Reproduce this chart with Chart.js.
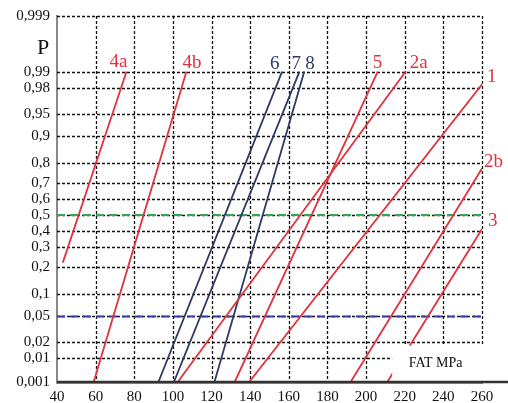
<!DOCTYPE html>
<html>
<head>
<meta charset="utf-8">
<script src="https://cdn.jsdelivr.net/npm/chart.js@4/dist/chart.umd.min.js"></script>
<style>
  html, body { margin: 0; padding: 0; background: #fff; }
  #wrap { width: 508px; height: 403px; }
</style>
</head>
<body>
<div id="wrap"><canvas id="chart"></canvas></div>
<script>
// probability paper: P on the left, FAT (MPa) along the bottom
const probTicks = [0.001, 0.01, 0.02, 0.05, 0.1, 0.2, 0.3, 0.4, 0.5, 0.6, 0.7, 0.8, 0.9, 0.95, 0.98, 0.99, 0.999];
const fatTicks = [40, 60, 80, 100, 120, 140, 160, 180, 200, 220, 240, 260];

// each curve is a straight line on the paper, start and end point
const curveNames = ['1', '2a', '2b', '3', '4a', '4b', '5', '6', '7', '8'];
const startFat = [139.5, 102.5, 192, 211, 43, 59, 132, 92.5, 100.5, 121.5];
const startP   = [0.001, 0.001, 0.001, 0.001, 0.22, 0.001, 0.001, 0.001, 0.001, 0.001];
const endFat   = [260, 220.5, 260, 260, 76, 107, 206, 156.5, 165.5, 168];
const endP     = [0.983, 0.99, 0.775, 0.41, 0.99, 0.99, 0.99, 0.99, 0.99, 0.99];

// horizontal reference levels
const refLevels = [0.5, 0.05];

const RED = '#e0323c';
const NAVY = '#2b3a66';
const curveColors = [RED, RED, RED, RED, RED, RED, RED, NAVY, NAVY, NAVY];
const refColors = ['#2fa84f', '#3a3aa8'];
// label placement next to the upper end of each curve
const labelDx = [5, 4, 2, 6, -17, -4, -5, -12, -8, 1];
const labelDy = [-7, -9, -6, -8, -10, -9, -9, -8, -8, -8];

// inverse normal CDF (Acklam)
function probit(p) {
  const a = [-39.69683028665376, 220.9460984245205, -275.9285104469687, 138.3577518672690, -30.66479806614716, 2.506628277459239];
  const b = [-54.47609879822406, 161.5858368580409, -155.6989798598866, 66.80131188771972, -13.28068155288572];
  const c = [-0.007784894002430293, -0.3223964580411365, -2.400758277161838, -2.549732539343734, 4.374664141464968, 2.938163982698783];
  const d = [0.007784695709041462, 0.3224671290700398, 2.445134137142996, 3.754408661907416];
  const pl = 0.02425;
  let q, r;
  if (p < pl) {
    q = Math.sqrt(-2 * Math.log(p));
    return (((((c[0]*q+c[1])*q+c[2])*q+c[3])*q+c[4])*q+c[5]) / ((((d[0]*q+d[1])*q+d[2])*q+d[3])*q+1);
  }
  if (p > 1 - pl) {
    q = Math.sqrt(-2 * Math.log(1 - p));
    return -(((((c[0]*q+c[1])*q+c[2])*q+c[3])*q+c[4])*q+c[5]) / ((((d[0]*q+d[1])*q+d[2])*q+d[3])*q+1);
  }
  q = p - 0.5; r = q * q;
  return (((((a[0]*r+a[1])*r+a[2])*r+a[3])*r+a[4])*r+a[5])*q / (((((b[0]*r+b[1])*r+b[2])*r+b[3])*r+b[4])*r+1);
}

// the paper squeezes the far tails beyond 0.01 / 0.99
const Z_LO = probit(0.01), Z_HI = probit(0.99);
function pos(p) {
  const z = probit(p);
  if (z > Z_HI) return Z_HI + (z - Z_HI) * 1.18;
  if (z < Z_LO) return Z_LO + (z - Z_LO) * 0.5;
  return z;
}

const datasets = curveNames.map((name, i) => ({
  label: name,
  data: [{ x: startFat[i], y: pos(startP[i]) }, { x: endFat[i], y: pos(endP[i]) }],
  borderColor: curveColors[i],
  borderWidth: 1.8,
  pointRadius: 0
}));
refLevels.forEach((p, i) => {
  datasets.push({
    label: 'P = ' + p,
    data: [{ x: fatTicks[0], y: pos(p) }, { x: fatTicks[fatTicks.length - 1], y: pos(p) }],
    borderColor: refColors[i],
    borderWidth: 2,
    borderDash: [8, 5],
    pointRadius: 0
  });
});

const serif = '"Liberation Serif", "DejaVu Serif", serif';

// dotted paper grid, drawn by hand so the dash pattern is exact
const paperGrid = {
  id: 'paperGrid',
  beforeDatasetsDraw(chart) {
    const { ctx, chartArea, scales } = chart;
    ctx.save();
    ctx.strokeStyle = '#111';
    ctx.lineWidth = 1.3;
    ctx.setLineDash([3, 2]);
    ctx.beginPath();
    fatTicks.slice(1).forEach(v => {
      const px = Math.round(scales.x.getPixelForValue(v)) + 0.5;
      ctx.moveTo(px, chartArea.top);
      ctx.lineTo(px, chartArea.bottom);
    });
    probTicks.slice(1).forEach(p => {
      const py = Math.round(scales.y.getPixelForValue(pos(p))) + 0.5;
      ctx.moveTo(chartArea.left, py);
      ctx.lineTo(chartArea.right, py);
    });
    ctx.stroke();
    ctx.restore();
  }
};

const paperNotes = {
  id: 'paperNotes',
  afterDatasetsDraw(chart) {
    const { ctx, chartArea, scales } = chart;
    const x = scales.x, y = scales.y;
    ctx.save();

    // blank corner holding the unit caption
    const boxL = x.getPixelForValue(213.5);
    const boxT = y.getPixelForValue(pos(0.02)) + 4;
    const boxB = chartArea.bottom - 1.6;
    ctx.fillStyle = '#fff';
    ctx.fillRect(boxL, boxT, chart.width - boxL, boxB - boxT);
    ctx.fillStyle = '#111';
    ctx.font = '14px ' + serif;
    ctx.textAlign = 'center';
    ctx.textBaseline = 'middle';
    ctx.fillText('FAT MPa', x.getPixelForValue(236), chartArea.bottom - 19);

    // bottom axis runs on to the edge
    ctx.strokeStyle = '#333';
    ctx.lineWidth = 2.5;
    ctx.beginPath();
    ctx.moveTo(chartArea.left, chartArea.bottom);
    ctx.lineTo(chart.width, chartArea.bottom);
    ctx.stroke();

    // axis letter
    ctx.fillStyle = '#111';
    ctx.font = '22px ' + serif;
    ctx.fillText('P', chartArea.left - 14, chartArea.top + 32);

    // curve numbers
    ctx.font = '19px ' + serif;
    ctx.textAlign = 'left';
    curveNames.forEach((name, i) => {
      const px = x.getPixelForValue(endFat[i]);
      const py = y.getPixelForValue(pos(endP[i]));
      ctx.fillStyle = curveColors[i];
      ctx.fillText(name, px + labelDx[i], py + labelDy[i]);
    });
    ctx.restore();
  }
};

new Chart(document.getElementById('chart').getContext('2d'), {
  type: 'line',
  data: { datasets },
  options: {
    responsive: true,
    maintainAspectRatio: false,
    animation: false,
    layout: { padding: { top: 14, right: 26, left: 0, bottom: 0 } },
    plugins: { legend: { display: false }, tooltip: { enabled: false } },
    scales: {
      x: {
        type: 'linear',
        min: fatTicks[0],
        max: fatTicks[fatTicks.length - 1],
        afterBuildTicks: (scale) => { scale.ticks = fatTicks.map(v => ({ value: v })); },
        afterFit: (scale) => { scale.height = 21; },
        grid: { display: false, drawTicks: false },
        border: { color: '#333', width: 2.5 },
        ticks: { autoSkip: false, padding: 6, color: '#111', font: { family: serif, size: 15 } }
      },
      y: {
        type: 'linear',
        min: pos(probTicks[0]),
        max: pos(probTicks[probTicks.length - 1]),
        afterBuildTicks: (scale) => { scale.ticks = probTicks.map(p => ({ value: pos(p) })); },
        afterFit: (scale) => { scale.width = 57; },
        grid: { display: false, drawTicks: false },
        border: { color: '#888', width: 2 },
        ticks: {
          autoSkip: false,
          padding: 7,
          color: '#111',
          font: { family: serif, size: 15 },
          callback: (v, i) => String(probTicks[i]).replace('.', ',')
        }
      }
    }
  },
  plugins: [paperGrid, paperNotes]
});
</script>
</body>
</html>
